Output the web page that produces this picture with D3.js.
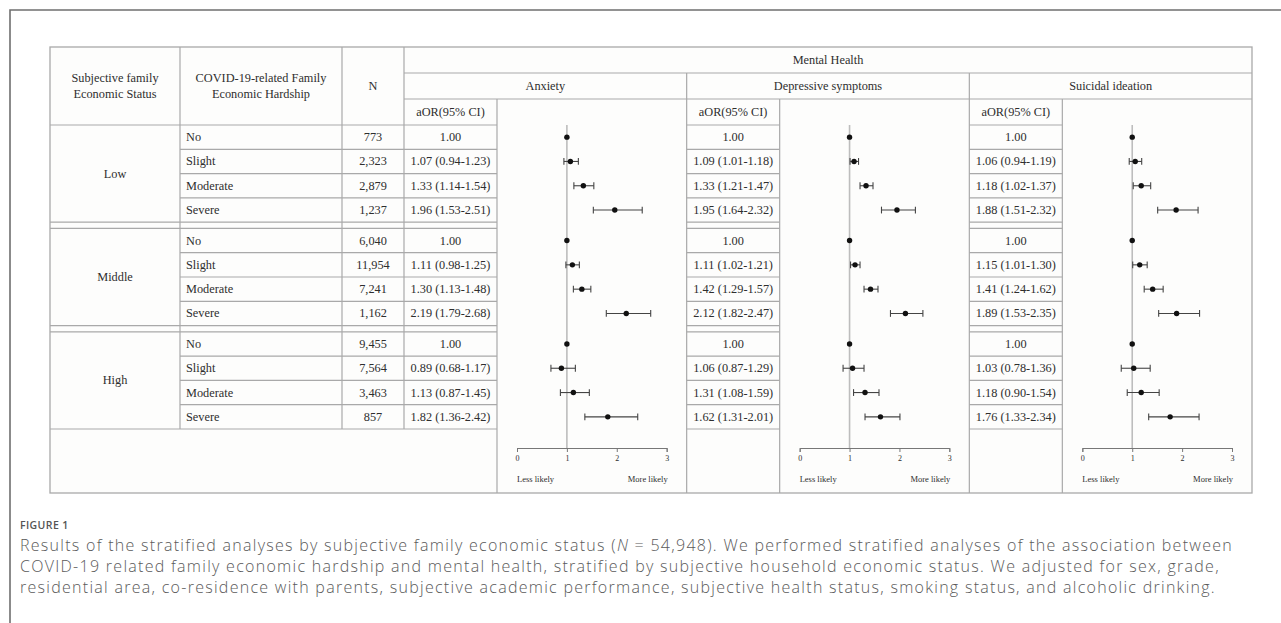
<!DOCTYPE html>
<html>
<head>
<meta charset="utf-8">
<script src="https://cdn.jsdelivr.net/npm/d3@7"></script>
<style>
  body { margin: 0; background: #fff; }
  svg { display: block; }
</style>
</head>
<body>
<svg id="fig" width="1281" height="623"></svg>
<script>
// ---- data ----
const statusGroups = ["Low", "Middle", "High"];
const hardshipLevels = ["No", "Slight", "Moderate", "Severe"];
const sampleSizes = [
  ["773", "2,323", "2,879", "1,237"],
  ["6,040", "11,954", "7,241", "1,162"],
  ["9,455", "7,564", "3,463", "857"]
];
const outcomes = ["Anxiety", "Depressive symptoms", "Suicidal ideation"];
// [aOR, lower, upper]; the "No" hardship level is the reference (no interval)
const anxietyOR = [
  [[1.00], [1.07, 0.94, 1.23], [1.33, 1.14, 1.54], [1.96, 1.53, 2.51]],
  [[1.00], [1.11, 0.98, 1.25], [1.30, 1.13, 1.48], [2.19, 1.79, 2.68]],
  [[1.00], [0.89, 0.68, 1.17], [1.13, 0.87, 1.45], [1.82, 1.36, 2.42]]
];
const depressiveOR = [
  [[1.00], [1.09, 1.01, 1.18], [1.33, 1.21, 1.47], [1.95, 1.64, 2.32]],
  [[1.00], [1.11, 1.02, 1.21], [1.42, 1.29, 1.57], [2.12, 1.82, 2.47]],
  [[1.00], [1.06, 0.87, 1.29], [1.31, 1.08, 1.59], [1.62, 1.31, 2.01]]
];
const suicidalOR = [
  [[1.00], [1.06, 0.94, 1.19], [1.18, 1.02, 1.37], [1.88, 1.51, 2.32]],
  [[1.00], [1.15, 1.01, 1.30], [1.41, 1.24, 1.62], [1.89, 1.53, 2.35]],
  [[1.00], [1.03, 0.78, 1.36], [1.18, 0.90, 1.54], [1.76, 1.33, 2.34]]
];
const axisTicks = [0, 1, 2, 3];
const axisEndLabels = ["Less likely", "More likely"];
const captionLabel = "FIGURE 1";

// ---- layout ----
const svg = d3.select("#fig");
const serif = "'Liberation Serif', 'Times New Roman', serif";
const lineColor = "#a9a9a9";
const textColor = "#2e2e2e";

const T = { left: 50, top: 47, right: 1252, bottom: 493 };
const colEdges = { status: 50, hardship: 180, n: 342, blocks: 404 };
const headerRows = [47, 73, 99, 125];
const rowH = 24.3, groupGap = 6.2;
const aorW = 93, forestPad = 20;

const blockScale = d3.scaleBand().domain(outcomes).range([colEdges.blocks, T.right]);
const groupTop = g => headerRows[3] + g * (4 * rowH + groupGap);
const rowY = (g, i) => groupTop(g) + (i + 0.5) * rowH;
const dataBottom = groupTop(2) + 4 * rowH;
const axisY = dataBottom + 19;

// background + outer frame
svg.append("rect").attr("width", 1281).attr("height", 623).attr("fill", "#fff");
svg.append("path").attr("d", "M10,623V10H1281")
  .attr("fill", "none").attr("stroke", "#6f6f6f").attr("stroke-width", 1.6);
svg.append("rect").attr("x", T.left).attr("y", T.top)
  .attr("width", T.right - T.left).attr("height", T.bottom - T.top)
  .attr("fill", "#fdfdfc").attr("stroke", lineColor).attr("stroke-width", 1.3);

const grid = svg.append("g").attr("stroke", lineColor).attr("stroke-width", 1.2).attr("fill", "none");
const hline = (x1, x2, y) => grid.append("line").attr("x1", x1).attr("x2", x2).attr("y1", y).attr("y2", y);
const vline = (x, y1, y2) => grid.append("line").attr("x1", x).attr("x2", x).attr("y1", y1).attr("y2", y2);

// segments of table columns that are split into rows (not the forest panels)
const leftTableSpan = [colEdges.hardship, blockScale(outcomes[0]) + aorW];
const aorSpans = outcomes.slice(1).map(o => [blockScale(o), blockScale(o) + aorW]);

// header lines
hline(colEdges.blocks, T.right, headerRows[1]);
hline(colEdges.blocks, T.right, headerRows[2]);
hline(T.left, leftTableSpan[1], headerRows[3]);
aorSpans.forEach(s => hline(s[0], s[1], headerRows[3]));

// vertical lines
vline(colEdges.hardship, T.top, dataBottom);
vline(colEdges.n, T.top, dataBottom);
vline(colEdges.blocks, T.top, dataBottom);
outcomes.forEach((o, k) => {
  const x0 = blockScale(o);
  if (k > 0) vline(x0, headerRows[1], T.bottom);
  vline(x0 + aorW, headerRows[2], T.bottom);
});

// row lines and group separators
statusGroups.forEach((s, g) => {
  for (let i = 1; i < 4; i++) {
    const y = groupTop(g) + i * rowH;
    hline(leftTableSpan[0], leftTableSpan[1], y);
    aorSpans.forEach(sp => hline(sp[0], sp[1], y));
  }
  const yb = groupTop(g) + 4 * rowH;
  hline(T.left, leftTableSpan[1], yb);
  aorSpans.forEach(sp => hline(sp[0], sp[1], yb));
  if (g < statusGroups.length - 1) {
    hline(T.left, leftTableSpan[1], yb + groupGap);
    aorSpans.forEach(sp => hline(sp[0], sp[1], yb + groupGap));
  }
});

// ---- text ----
const txt = svg.append("g").attr("font-family", serif).attr("font-size", 12.3).attr("fill", textColor);
const put = (x, y, s, anchor = "middle") =>
  txt.append("text").attr("x", x).attr("y", y).attr("text-anchor", anchor)
    .attr("dominant-baseline", "central").text(s);

const hdrMid = (headerRows[0] + headerRows[3]) / 2;
put((colEdges.status + colEdges.hardship) / 2, hdrMid - 8, "Subjective family");
put((colEdges.status + colEdges.hardship) / 2, hdrMid + 8, "Economic Status");
put((colEdges.hardship + colEdges.n) / 2, hdrMid - 8, "COVID-19-related Family");
put((colEdges.hardship + colEdges.n) / 2, hdrMid + 8, "Economic Hardship");
put((colEdges.n + colEdges.blocks) / 2, hdrMid, "N");
put((colEdges.blocks + T.right) / 2, (headerRows[0] + headerRows[1]) / 2, "Mental Health");
outcomes.forEach(o => {
  put(blockScale(o) + blockScale.bandwidth() / 2, (headerRows[1] + headerRows[2]) / 2, o);
  put(blockScale(o) + aorW / 2, (headerRows[2] + headerRows[3]) / 2, "aOR(95% CI)");
});

const fmt = d3.format(".2f");
const orLabel = v => v.length === 1 ? fmt(v[0]) : `${fmt(v[0])} (${fmt(v[1])}-${fmt(v[2])})`;
const outcomeData = [anxietyOR, depressiveOR, suicidalOR];

statusGroups.forEach((s, g) => {
  put((colEdges.status + colEdges.hardship) / 2, groupTop(g) + 2 * rowH, s);
  hardshipLevels.forEach((h, i) => {
    put(colEdges.hardship + 6, rowY(g, i), h, "start");
    put((colEdges.n + colEdges.blocks) / 2, rowY(g, i), sampleSizes[g][i]);
    outcomes.forEach((o, k) => {
      put(blockScale(o) + aorW / 2, rowY(g, i), orLabel(outcomeData[k][g][i]));
    });
  });
});

// ---- forest panels ----
outcomes.forEach((o, k) => {
  const fx0 = blockScale(o) + aorW, fx1 = blockScale(o) + blockScale.bandwidth();
  const x = d3.scaleLinear().domain([0, 3]).range([fx0 + forestPad, fx1 - forestPad]);
  const panel = svg.append("g");

  // null line at OR = 1
  panel.append("line").attr("x1", x(1)).attr("x2", x(1))
    .attr("y1", headerRows[3]).attr("y2", axisY)
    .attr("stroke", "#bdbdbd").attr("stroke-width", 1.6);

  const pts = [];
  statusGroups.forEach((s, g) => hardshipLevels.forEach((h, i) =>
    pts.push({ y: rowY(g, i), v: outcomeData[k][g][i] })));

  const ci = pts.filter(d => d.v.length === 3);
  const bars = panel.append("g").attr("stroke", "#444").attr("stroke-width", 1.1);
  bars.selectAll(".ci").data(ci).join("line")
    .attr("x1", d => x(d.v[1])).attr("x2", d => x(d.v[2]))
    .attr("y1", d => d.y).attr("y2", d => d.y);
  bars.selectAll(".capL").data(ci).join("line")
    .attr("x1", d => x(d.v[1])).attr("x2", d => x(d.v[1]))
    .attr("y1", d => d.y - 3.4).attr("y2", d => d.y + 3.4);
  bars.selectAll(".capR").data(ci).join("line")
    .attr("x1", d => x(d.v[2])).attr("x2", d => x(d.v[2]))
    .attr("y1", d => d.y - 3.4).attr("y2", d => d.y + 3.4);
  panel.selectAll("circle").data(pts).join("circle")
    .attr("cx", d => x(d.v[0])).attr("cy", d => d.y).attr("r", 2.7).attr("fill", "#111");

  // axis
  const ax = panel.append("g").attr("transform", `translate(0,${axisY})`)
    .call(d3.axisBottom(x).tickValues(axisTicks).tickFormat(d3.format("d")).tickSize(4).tickSizeOuter(4));
  ax.select(".domain").attr("stroke", "#777").attr("stroke-width", 1);
  ax.selectAll(".tick line").attr("stroke", "#777");
  ax.selectAll(".tick text").attr("font-family", serif).attr("font-size", 8)
    .attr("fill", textColor).attr("y", 7);

  panel.append("text").attr("x", x(0)).attr("y", axisY + 34)
    .attr("font-family", serif).attr("font-size", 8.5).attr("fill", textColor)
    .text(axisEndLabels[0]);
  panel.append("text").attr("x", x(3) + 1).attr("y", axisY + 34).attr("text-anchor", "end")
    .attr("font-family", serif).attr("font-size", 8.5).attr("fill", textColor)
    .text(axisEndLabels[1]);
});

// ---- caption ----
const sans = "'Open Sans', 'Noto Sans', sans-serif";
const capX = 20, capRight = 1233, capSize = 16;
svg.append("text").attr("x", capX).attr("y", 529)
  .attr("font-family", sans).attr("font-size", 10.5).attr("font-weight", 600)
  .attr("fill", "#555").attr("letter-spacing", 0.4).text(captionLabel);

const capLines = [
  [["Results of the stratified analyses by subjective family economic status (", false], ["N", true],
   [" = 54,948). We performed stratified analyses of the association between", false]],
  [["COVID-19 related family economic hardship and mental health, stratified by subjective household economic status. We adjusted for sex, grade,", false]],
  [["residential area, co-residence with parents, subjective academic performance, subjective health status, smoking status, and alcoholic drinking.", false]]
];
const capG = svg.append("g").attr("font-family", sans).attr("fill", "#5a5a5a")
  .attr("font-weight", 300).attr("font-size", capSize);
const capTexts = capLines.map((parts, j) => {
  const t = capG.append("text").attr("x", capX).attr("y", 551 + j * 21);
  parts.forEach(p => t.append("tspan").attr("font-style", p[1] ? "italic" : "normal").text(p[0]));
  return t;
});
// spread letters so the first line spans the panel width
const first = capTexts[0];
const nChars = first.text().length;
const spacing = (capRight - capX - first.node().getComputedTextLength()) / nChars;
capG.attr("letter-spacing", spacing);
</script>
</body>
</html>
